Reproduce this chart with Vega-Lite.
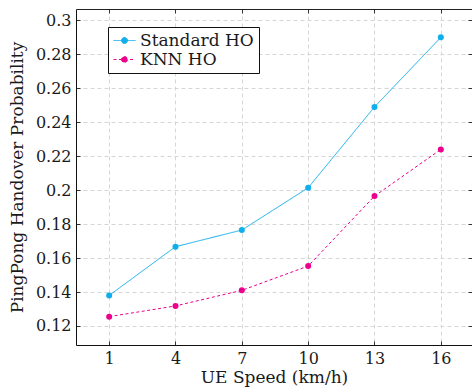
{
  "$schema": "https://vega.github.io/schema/vega-lite/v6.json",
  "autosize": "none",
  "width": 396,
  "height": 336,
  "padding": {"left": 76, "top": 9, "right": 0, "bottom": 45},
  "background": "white",
  "config": {
    "view": {"stroke": null},
    "font": "DejaVu Serif",
    "axis": {"labelFont": "DejaVu Serif", "titleFont": "DejaVu Serif", "labelFontSize": 16, "titleFontSize": 17, "titleFontWeight": "normal", "labelColor": "#1a1a1a", "titleColor": "#1a1a1a"},
    "legend": {"labelFont": "DejaVu Serif", "labelFontSize": 17, "labelColor": "#1a1a1a"}
  },
  "data": {"values": [
    {"speed": 1, "prob": 0.138, "method": "Standard HO"},
    {"speed": 4, "prob": 0.1667, "method": "Standard HO"},
    {"speed": 7, "prob": 0.1765, "method": "Standard HO"},
    {"speed": 10, "prob": 0.2014, "method": "Standard HO"},
    {"speed": 13, "prob": 0.249, "method": "Standard HO"},
    {"speed": 16, "prob": 0.290, "method": "Standard HO"},
    {"speed": 1, "prob": 0.1255, "method": "KNN HO"},
    {"speed": 4, "prob": 0.1318, "method": "KNN HO"},
    {"speed": 7, "prob": 0.141, "method": "KNN HO"},
    {"speed": 10, "prob": 0.1553, "method": "KNN HO"},
    {"speed": 13, "prob": 0.1965, "method": "KNN HO"},
    {"speed": 16, "prob": 0.224, "method": "KNN HO"}
  ]},
  "layer": [
    {
      "mark": {"type": "line", "strokeWidth": 1},
      "encoding": {
        "x": {"field": "speed", "type": "quantitative",
          "scale": {"domain": [-0.5, 17.41], "nice": false, "zero": false},
          "axis": {"orient": "bottom", "title": "UE Speed (km/h)", "values": [1, 4, 7, 10, 13, 16],
            "grid": true, "gridColor": "#d6d6d6", "gridDash": [4, 3], "gridWidth": 1,
            "domainColor": "#111", "domainWidth": 1, "tickSize": -4, "tickColor": "#333",
            "labelPadding": 9, "titlePadding": 3, "labelFlush": false}},
        "y": {"field": "prob", "type": "quantitative",
          "scale": {"domain": [0.1088, 0.3067], "nice": false, "zero": false},
          "axis": {"orient": "left", "title": "PingPong Handover Probability",
            "values": [0.12, 0.14, 0.16, 0.18, 0.2, 0.22, 0.24, 0.26, 0.28, 0.3], "format": ".2~f",
            "grid": true, "gridColor": "#d6d6d6", "gridDash": [4, 3], "gridWidth": 1,
            "domainColor": "#111", "domainWidth": 1, "tickSize": -4, "tickColor": "#333",
            "labelPadding": 9, "titlePadding": 9, "labelFlush": false}},
        "color": {"field": "method", "type": "nominal",
          "scale": {"domain": ["Standard HO", "KNN HO"], "range": ["#10aeea", "#ec008c"]},
          "legend": {"orient": "none", "legendX": 32, "legendY": 18, "title": null,
            "strokeColor": "#111", "fillColor": "white", "padding": 5, "rowPadding": 1,
            "symbolType": "M-1,0L1.75,0M0,0A0.375,0.375,0,1,0,0.75,0A0.375,0.375,0,1,0,0,0",
            "symbolSize": 256, "symbolStrokeWidth": 1, "labelOffset": 10,
            "encode": {"symbols": {"update": {"fill": {"scale": "color", "field": "value"}, "stroke": {"scale": "color", "field": "value"}}}}}},
        "strokeDash": {"field": "method", "type": "nominal",
          "scale": {"domain": ["Standard HO", "KNN HO"], "range": [[1, 0], [3, 2.5]]},
          "legend": {"orient": "none", "legendX": 32, "legendY": 18, "title": null}}
      }
    },
    {
      "mark": {"type": "circle", "size": 36, "opacity": 1},
      "encoding": {
        "x": {"field": "speed", "type": "quantitative",
          "axis": {"orient": "top", "title": null, "labels": false, "grid": false, "values": [1, 4, 7, 10, 13, 16],
            "domainColor": "#222", "domainWidth": 1, "tickSize": -4, "tickColor": "#333"}},
        "y": {"field": "prob", "type": "quantitative",
          "axis": {"orient": "right", "title": null, "labels": false, "grid": false, "domain": false,
            "values": [0.12, 0.14, 0.16, 0.18, 0.2, 0.22, 0.24, 0.26, 0.28, 0.3], "tickSize": -4, "tickColor": "#333"}},
        "color": {"field": "method", "type": "nominal"}
      }
    }
  ],
  "resolve": {"axis": {"x": "independent", "y": "independent"}}
}
